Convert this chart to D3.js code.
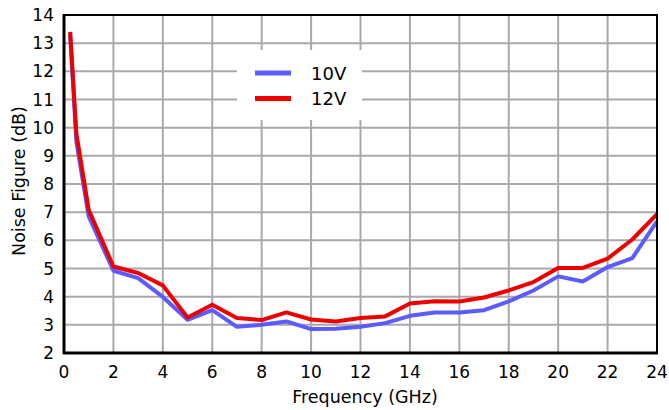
<!DOCTYPE html>
<html>
<head>
<meta charset="utf-8">
<script src="https://cdn.jsdelivr.net/npm/d3@7"></script>
<style>
  body { margin: 0; background: #fff; }
  text { font-family: "DejaVu Sans", sans-serif; fill: #000; }
</style>
</head>
<body>
<svg id="chart" width="669" height="410"></svg>
<script>
var frequency = [0.25, 0.5, 1, 2, 3, 4, 5, 6, 7, 8, 9, 10, 11, 12, 13, 14, 15, 16, 17, 18, 19, 20, 21, 22, 23, 24];
var nf10V = [13.3, 9.5, 6.85, 4.92, 4.66, 3.99, 3.18, 3.52, 2.93, 3.0, 3.12, 2.85, 2.86, 2.93, 3.06, 3.32, 3.44, 3.44, 3.52, 3.83, 4.22, 4.72, 4.54, 5.05, 5.37, 6.67];
var nf12V = [13.4, 9.8, 7.08, 5.07, 4.84, 4.4, 3.26, 3.71, 3.24, 3.17, 3.44, 3.19, 3.12, 3.24, 3.3, 3.76, 3.84, 3.83, 3.97, 4.22, 4.52, 5.02, 5.02, 5.35, 6.03, 6.93];
var xTicks = [0, 2, 4, 6, 8, 10, 12, 14, 16, 18, 20, 22, 24];
var yTicks = [2, 3, 4, 5, 6, 7, 8, 9, 10, 11, 12, 13, 14];
var seriesNames = ["10V", "12V"];

var blueColor = "#5b5bff";
var redColor = "#ee0000";
var gridColor = "#a9a9ad";

var plotLeft = 64, plotRight = 657, plotTop = 15, plotBottom = 353;

var svg = d3.select("#chart");
var x = d3.scaleLinear().domain([0, 24]).range([plotLeft, plotRight]);
var y = d3.scaleLinear().domain([2, 14]).range([plotBottom, plotTop]);

// grid
svg.append("g").selectAll("line")
    .data(xTicks.slice(1, -1))
    .enter().append("line")
    .attr("x1", function (d) { return x(d); })
    .attr("x2", function (d) { return x(d); })
    .attr("y1", plotTop).attr("y2", plotBottom)
    .style("stroke", gridColor).style("stroke-width", 2);
svg.append("g").selectAll("line")
    .data(yTicks.slice(1, -1))
    .enter().append("line")
    .attr("x1", plotLeft).attr("x2", plotRight)
    .attr("y1", function (d) { return y(d); })
    .attr("y2", function (d) { return y(d); })
    .style("stroke", gridColor).style("stroke-width", 2);

// curves
function drawSeries(values, color) {
    var line = d3.line()
        .x(function (d, i) { return x(frequency[i]); })
        .y(function (d) { return y(d); });
    svg.append("path")
        .datum(values)
        .attr("d", line)
        .style("fill", "none")
        .style("stroke", color)
        .style("stroke-width", 4)
        .style("stroke-linejoin", "round");
}
drawSeries(nf10V, blueColor);
drawSeries(nf12V, redColor);

// frame
svg.append("line").attr("x1", plotLeft).attr("x2", plotLeft).attr("y1", plotTop - 1).attr("y2", plotBottom + 1)
    .style("stroke", "#000").style("stroke-width", 3);
svg.append("line").attr("x1", plotLeft - 1).attr("x2", plotRight + 1).attr("y1", plotBottom).attr("y2", plotBottom)
    .style("stroke", "#000").style("stroke-width", 3);
svg.append("line").attr("x1", plotLeft).attr("x2", plotRight + 1).attr("y1", plotTop).attr("y2", plotTop)
    .style("stroke", "#000").style("stroke-width", 2);
svg.append("line").attr("x1", plotRight).attr("x2", plotRight).attr("y1", plotTop).attr("y2", plotBottom)
    .style("stroke", "#000").style("stroke-width", 2);

// tick labels
svg.append("g").selectAll("text")
    .data(xTicks)
    .enter().append("text")
    .attr("x", function (d) { return x(d); })
    .attr("y", plotBottom + 25)
    .attr("text-anchor", "middle")
    .style("font-size", "17px")
    .text(function (d) { return d; });
svg.append("g").selectAll("text")
    .data(yTicks)
    .enter().append("text")
    .attr("x", plotLeft - 10)
    .attr("y", function (d) { return y(d) + 6; })
    .attr("text-anchor", "end")
    .style("font-size", "17px")
    .text(function (d) { return d; });

// axis titles
svg.append("text")
    .attr("x", 365)
    .attr("y", 403)
    .attr("text-anchor", "middle")
    .style("font-size", "17.5px")
    .text("Frequency (GHz)");
svg.append("text")
    .attr("transform", "translate(25,181) rotate(-90)")
    .attr("text-anchor", "middle")
    .style("font-size", "17.5px")
    .text("Noise Figure (dB)");

// legend
var legend = svg.append("g");
legend.append("rect")
    .attr("x", 237).attr("y", 50).attr("width", 125).attr("height", 70)
    .style("fill", "#fff");
legend.selectAll("line")
    .data(seriesNames)
    .enter().append("line")
    .attr("x1", 255).attr("x2", 291)
    .attr("y1", function (d, i) { return 73 + i * 25.5; })
    .attr("y2", function (d, i) { return 73 + i * 25.5; })
    .style("stroke", function (d, i) { return i == 0 ? blueColor : redColor; })
    .style("stroke-width", 5);
legend.selectAll("text")
    .data(seriesNames)
    .enter().append("text")
    .attr("x", 311)
    .attr("y", function (d, i) { return 79.5 + i * 25.5; })
    .style("font-size", "18px")
    .text(function (d) { return d; });
</script>
</body>
</html>
